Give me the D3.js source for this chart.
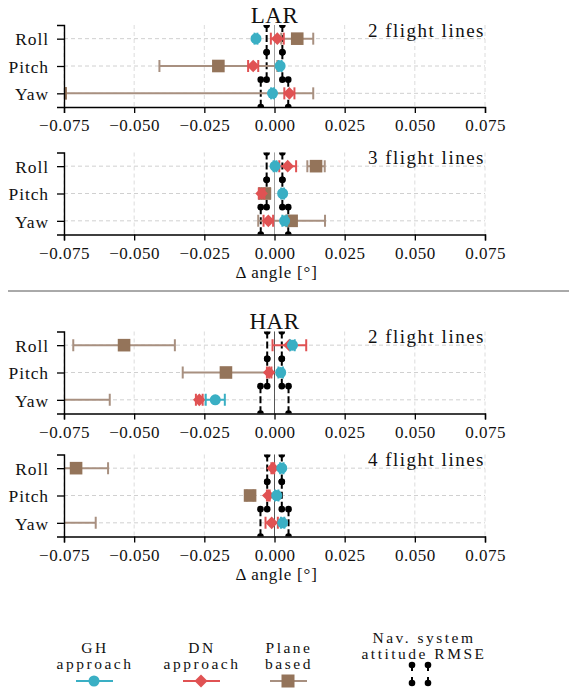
<!DOCTYPE html>
<html>
<head>
<meta charset="utf-8">
<script src="https://cdn.jsdelivr.net/npm/d3@7"></script>
<style>
  html, body { margin: 0; padding: 0; background: #fff; }
  svg { display: block; }
  text { font-family: "Liberation Serif", "DejaVu Serif", serif; fill: #111; }
</style>
</head>
<body>
<svg id="chart" width="570" height="693"></svg>
<script>
// ---- data ----------------------------------------------------------------
const categories = ["Roll", "Pitch", "Yaw"];
const xTicks = [-0.075, -0.05, -0.025, 0, 0.025, 0.05, 0.075];

// GH approach (mean, error)
const ghLar2 = [-0.0066, 0.0020, -0.0007];
const ghLar2Err = [0.0005, 0.0005, 0.0005];
const ghLar3 = [0.0002, 0.0029, 0.0036];
const ghLar3Err = [0.0005, 0.0005, 0.0008];
const ghHar2 = [0.0064, 0.0022, -0.0211];
const ghHar2Err = [0.0008, 0.0008, 0.0034];
const ghHar4 = [0.0026, 0.0008, 0.0029];
const ghHar4Err = [0.0006, 0.0006, 0.0006];

// DN approach (mean, error)
const dnLar2 = [0.0010, -0.0076, 0.0053];
const dnLar2Err = [0.0023, 0.0018, 0.0018];
const dnLar3 = [0.0047, -0.0046, -0.0022];
const dnLar3Err = [0.0030, 0.0010, 0.0017];
const dnHar2 = [0.0053, -0.0019, -0.0268];
const dnHar2Err = [0.0060, 0.0008, 0.0012];
const dnHar4 = [-0.0006, -0.0022, -0.0010];
const dnHar4Err = [0.0005, 0.0005, 0.0022];

// Plane based (mean, error)
const plLar2 = [0.0081, -0.0200, -0.0762];
const plLar2Err = [0.0057, 0.0210, 0.0900];
const plLar3 = [0.0148, -0.0035, 0.0061];
const plLar3Err = [0.0031, 0.0020, 0.0119];
const plHar2 = [-0.0536, -0.0173, -0.0880];
const plHar2Err = [0.0181, 0.0154, 0.0293];
const plHar4 = [-0.0707, -0.0087, -0.0900];
const plHar4Err = [0.0114, 0.0012, 0.0263];

// navigation system attitude RMSE
const rmseLar = [0.0028, 0.0028, 0.0049];
const rmseHar = [0.0026, 0.0026, 0.0050];

// ---- styling ------------------------------------------------------------
const colGH = "#3aafc4";
const colDN = "#e05253";
const colPL = "#94745a";
const colPLbar = "#a89080";
const serif = "'Liberation Serif', 'DejaVu Serif', serif";

const panels = [
  { title: "LAR", note: "2 flight lines", top: 25, bottom: 107, xlabel: false, zeroCol: "#999",
    gh: ghLar2, ghE: ghLar2Err, dn: dnLar2, dnE: dnLar2Err, pl: plLar2, plE: plLar2Err, rmse: rmseLar },
  { title: null, note: "3 flight lines", top: 152.5, bottom: 234.5, xlabel: true, zeroCol: "#999",
    gh: ghLar3, ghE: ghLar3Err, dn: dnLar3, dnE: dnLar3Err, pl: plLar3, plE: plLar3Err, rmse: rmseLar },
  { title: "HAR", note: "2 flight lines", top: 331.5, bottom: 413.5, xlabel: false, zeroCol: "#444",
    gh: ghHar2, ghE: ghHar2Err, dn: dnHar2, dnE: dnHar2Err, pl: plHar2, plE: plHar2Err, rmse: rmseHar },
  { title: null, note: "4 flight lines", top: 454.5, bottom: 536.5, xlabel: true, zeroCol: "#444",
    gh: ghHar4, ghE: ghHar4Err, dn: dnHar4, dnE: dnHar4Err, pl: plHar4, plE: plHar4Err, rmse: rmseHar }
];

const svg = d3.select("#chart");
const x = d3.scaleLinear().domain([-0.075, 0.075]).range([64, 485]);
const fmt = d => (d < 0 ? "\u2212" : "") + Math.abs(d).toFixed(3);

const diamond = s => `M0,${-s}L${s},0L0,${s}L${-s},0Z`;

panels.forEach((p, pi) => {
  const y = d3.scalePoint().domain(categories).range([p.top, p.bottom]).padding(0.5);
  const step = y.step();
  const g = svg.append("g");

  const clipId = "clip" + pi;
  svg.append("clipPath").attr("id", clipId)
    .append("rect").attr("x", x.range()[0]).attr("y", p.top)
    .attr("width", x.range()[1] - x.range()[0]).attr("height", p.bottom - p.top);

  // grid
  g.selectAll(".vgrid").data(xTicks).join("line")
    .attr("x1", d => x(d)).attr("x2", d => x(d))
    .attr("y1", p.top).attr("y2", p.bottom)
    .attr("stroke", "#dcdcdc").attr("stroke-width", 1).attr("stroke-dasharray", "4,3");
  g.selectAll(".hgrid").data(categories).join("line")
    .attr("x1", x.range()[0]).attr("x2", x.range()[1])
    .attr("y1", d => y(d)).attr("y2", d => y(d))
    .attr("stroke", "#d0d0d0").attr("stroke-width", 1).attr("stroke-dasharray", "4,3");

  // zero reference
  g.append("line").attr("x1", x(0)).attr("x2", x(0))
    .attr("y1", p.top).attr("y2", p.bottom)
    .attr("stroke", p.zeroCol).attr("stroke-width", 0.9);

  const plot = g.append("g").attr("clip-path", `url(#${clipId})`);

  // nav-system RMSE: dashed verticals at ±RMSE, one band per attitude angle
  categories.forEach((c, i) => {
    [-1, 1].forEach(sgn => {
      const xv = x(sgn * p.rmse[i]);
      plot.append("line").attr("x1", xv).attr("x2", xv)
        .attr("y1", y(c) - step / 2).attr("y2", y(c) + step / 2)
        .attr("stroke", "#000").attr("stroke-width", 2).attr("stroke-dasharray", "7,3");
      [y(c) - step / 2, y(c) + step / 2].forEach(yy => {
        plot.append("circle").attr("cx", xv).attr("cy", yy).attr("r", 3.3).attr("fill", "#000");
      });
    });
  });

  // error bars + markers
  function series(vals, errs, col, barCol, shape) {
    const sg = plot.append("g");
    categories.forEach((c, i) => {
      const yy = y(c), x0 = x(vals[i] - errs[i]), x1 = x(vals[i] + errs[i]);
      sg.append("line").attr("x1", x0).attr("x2", x1).attr("y1", yy).attr("y2", yy)
        .attr("stroke", barCol).attr("stroke-width", 2);
      [x0, x1].forEach(xc => sg.append("line").attr("x1", xc).attr("x2", xc)
        .attr("y1", yy - 6).attr("y2", yy + 6).attr("stroke", barCol).attr("stroke-width", 2));
      const cx = x(vals[i]);
      if (shape === "circle") {
        sg.append("circle").attr("cx", cx).attr("cy", yy).attr("r", 5.5).attr("fill", col);
      } else if (shape === "diamond") {
        sg.append("path").attr("d", diamond(6.3)).attr("transform", `translate(${cx},${yy})`).attr("fill", col);
      } else {
        sg.append("rect").attr("x", cx - 6.3).attr("y", yy - 6.3).attr("width", 12.6).attr("height", 12.6).attr("fill", col);
      }
    });
  }
  series(p.pl, p.plE, colPL, colPLbar, "square");
  series(p.dn, p.dnE, colDN, colDN, "diamond");
  series(p.gh, p.ghE, colGH, colGH, "circle");

  // axes
  const xa = g.append("g").attr("transform", `translate(0,${p.bottom})`)
    .call(d3.axisBottom(x).tickValues(xTicks).tickFormat(fmt).tickSize(6).tickPadding(4));
  xa.attr("font-family", serif);
  xa.select(".domain").attr("stroke", "#000").attr("stroke-width", 1.4);
  xa.selectAll(".tick line").attr("stroke", "#000").attr("stroke-width", 1.3);
  xa.selectAll(".tick text").style("font-family", serif).style("font-size", "17px")
    .attr("letter-spacing", 0.5).attr("fill", "#111").attr("dy", "0.85em");

  const ya = g.append("g").attr("transform", `translate(${x.range()[0]},0)`)
    .call(d3.axisLeft(y).tickSize(7).tickPadding(8));
  ya.attr("font-family", serif);
  ya.select(".domain").attr("stroke", "#000").attr("stroke-width", 1.4);
  ya.selectAll(".tick line").attr("stroke", "#000").attr("stroke-width", 1.3);
  ya.selectAll(".tick text").style("font-family", serif).style("font-size", "17.5px")
    .attr("letter-spacing", 0.9).attr("fill", "#111").attr("dy", "0.36em");

  // annotations
  g.append("text").attr("x", x.range()[1]).attr("y", p.top + 11.5)
    .attr("text-anchor", "end").style("font-size", "19px").attr("letter-spacing", 1.5)
    .text(p.note);
  if (p.title) {
    g.append("text").attr("x", x(0)).attr("y", p.top - 2.5)
      .attr("text-anchor", "middle").style("font-size", "23px").attr("letter-spacing", 0.5)
      .text(p.title);
  }
  if (p.xlabel) {
    g.append("text").attr("x", x(0) + 2).attr("y", p.bottom + 43)
      .attr("text-anchor", "middle").style("font-size", "17px").attr("letter-spacing", 0.8)
      .text("\u0394 angle [\u00b0]");
  }
});

// divider between LAR and HAR blocks
svg.append("line").attr("x1", 8).attr("x2", 569).attr("y1", 291).attr("y2", 291)
  .attr("stroke", "#555").attr("stroke-width", 1);

// ---- legend -------------------------------------------------------------
const legend = svg.append("g");
const legendItems = [
  { lines: ["GH", "approach"], cx: 94, kind: "circle" },
  { lines: ["DN", "approach"], cx: 201, kind: "diamond" },
  { lines: ["Plane", "based"], cx: 288, kind: "square" },
  { lines: ["Nav. system", "attitude RMSE"], cx: 423, kind: "rmse" }
];
const legY = 681;
legendItems.forEach(it => {
  const baseY = it.kind === "rmse" ? 643 : 653;
  it.lines.forEach((t, k) => {
    legend.append("text").attr("x", it.cx + 1).attr("y", baseY + k * 15.5)
      .attr("text-anchor", "middle").style("font-size", "15.5px").attr("letter-spacing", 2.5)
      .text(t);
  });
  if (it.kind === "rmse") {
    [it.cx - 11, it.cx + 5].forEach(xx => {
      legend.append("line").attr("x1", xx).attr("x2", xx).attr("y1", 665).attr("y2", 671)
        .attr("stroke", "#000").attr("stroke-width", 2);
      legend.append("line").attr("x1", xx).attr("x2", xx).attr("y1", 677).attr("y2", 683)
        .attr("stroke", "#000").attr("stroke-width", 2);
      legend.append("circle").attr("cx", xx).attr("cy", 665).attr("r", 3.3).attr("fill", "#000");
      legend.append("circle").attr("cx", xx).attr("cy", 683).attr("r", 3.3).attr("fill", "#000");
    });
  } else {
    const col = it.kind === "circle" ? colGH : it.kind === "diamond" ? colDN : colPL;
    const barCol = it.kind === "square" ? colPLbar : col;
    legend.append("line").attr("x1", it.cx - 18).attr("x2", it.cx + 19).attr("y1", legY).attr("y2", legY)
      .attr("stroke", barCol).attr("stroke-width", 2);
    if (it.kind === "circle") {
      legend.append("circle").attr("cx", it.cx).attr("cy", legY).attr("r", 5.5).attr("fill", col);
    } else if (it.kind === "diamond") {
      legend.append("path").attr("d", diamond(6.5)).attr("transform", `translate(${it.cx},${legY})`).attr("fill", col);
    } else {
      legend.append("rect").attr("x", it.cx - 6.5).attr("y", legY - 6.5).attr("width", 13).attr("height", 13).attr("fill", col);
    }
  }
});
</script>
</body>
</html>
